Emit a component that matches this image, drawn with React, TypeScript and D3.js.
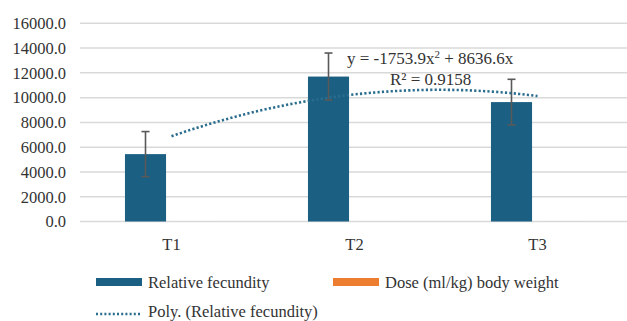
import React from "react";
import * as d3 from "d3";

const categories = ["T1", "T2", "T3"];
const seriesNames = ["Relative fecundity", "Dose (ml/kg) body weight"];
const fecundity = [5440, 11700, 9640];
const fecundityErr = [1820, 1900, 1840];
const dose = [0.5, 1.0, 1.5];
const yTicks = [0, 2000, 4000, 6000, 8000, 10000, 12000, 14000, 16000];
// trendline coefficients as printed on the chart
const polyA = -1753.9;
const polyB = 8636.6;
const equationText = ["y = -1753.9x", "2", " + 8636.6x"];
const r2Text = "R\u00b2 = 0.9158";
const trendLegend = "Poly. (Relative fecundity)";

const width = 627;
const height = 321;
const font = "Liberation Serif, Times New Roman, DejaVu Serif, serif";
const barColor = "#1b5f82";
const doseColor = "#ed7d31";
const trendColor = "#2a6d8e";
const gridColor = "#d9d9d9";
const textColor = "#333333";

export default function App() {
  const x = d3.scaleBand().domain(categories).range([80, 629]);
  const xSub = d3
    .scaleBand()
    .domain(seriesNames)
    .range([0, x.bandwidth()])
    .paddingInner(0.21)
    .paddingOuter(0.865);
  const y = d3.scaleLinear().domain([0, 16000]).range([221.5, 23.3]);

  const center = (c: string) => (x(c) as number) + x.bandwidth() / 2;
  const xTrend = d3
    .scaleLinear()
    .domain([1, 3])
    .range([center(categories[0]), center(categories[2])]);

  const trendPts = d3.range(1, 3.001, 0.05).map((t) => [t, polyA * t * t + polyB * t] as [number, number]);
  const trendLine = d3
    .line<[number, number]>()
    .x((d) => xTrend(d[0]))
    .y((d) => y(d[1]))
    .curve(d3.curveMonotoneX);

  const capHalf = 4;
  const txt = { fontFamily: font, fill: textColor };

  return (
    <svg
      width={width}
      height={height}
      style={{ position: "absolute", left: 0, top: 0, background: "#fff" }}
    >
      {/* gridlines */}
      {yTicks.map((t) => (
        <line key={t} x1={80} x2={width} y1={y(t)} y2={y(t)} stroke={gridColor} strokeWidth={1.5} />
      ))}
      {/* y labels */}
      {yTicks.map((t) => (
        <text key={"l" + t} x={66} y={y(t)} dy="0.35em" textAnchor="end" fontSize={16.5} style={txt}>
          {d3.format(".1f")(t)}
        </text>
      ))}
      {/* bars */}
      {categories.map((c, i) => (
        <g key={c} transform={`translate(${x(c)},0)`}>
          <rect
            x={xSub(seriesNames[0])}
            y={y(fecundity[i])}
            width={xSub.bandwidth()}
            height={y(0) - y(fecundity[i])}
            fill={barColor}
          />
          <rect
            x={xSub(seriesNames[1])}
            y={y(dose[i])}
            width={xSub.bandwidth()}
            height={y(0) - y(dose[i])}
            fill={doseColor}
          />
        </g>
      ))}
      {/* error bars */}
      {categories.map((c, i) => {
        const cx = (x(c) as number) + (xSub(seriesNames[0]) as number) + xSub.bandwidth() / 2;
        const top = y(fecundity[i] + fecundityErr[i]);
        const bot = y(fecundity[i] - fecundityErr[i]);
        return (
          <g key={"e" + c} stroke="#595959" strokeWidth={1.6}>
            <line x1={cx} x2={cx} y1={top} y2={bot} />
            <line x1={cx - capHalf} x2={cx + capHalf} y1={top} y2={top} />
            <line x1={cx - capHalf} x2={cx + capHalf} y1={bot} y2={bot} />
          </g>
        );
      })}
      {/* trendline */}
      <path
        d={trendLine(trendPts) as string}
        fill="none"
        stroke={trendColor}
        strokeWidth={2.6}
        strokeDasharray="2.2 2.2"
      />
      {/* equation */}
      <text x={347} y={64} fontSize={17} style={txt}>
        {equationText[0]}
        <tspan dy={-6} fontSize={11}>{equationText[1]}</tspan>
        <tspan dy={6}>{equationText[2]}</tspan>
      </text>
      <text x={390} y={85} fontSize={17} style={txt}>
        {r2Text}
      </text>
      {/* x labels */}
      {categories.map((c) => (
        <text key={"x" + c} x={center(c)} y={250} textAnchor="middle" fontSize={16.5} style={txt}>
          {c}
        </text>
      ))}
      {/* legend */}
      <rect x={96} y={278} width={46} height={8} fill={barColor} />
      <text x={148} y={288} fontSize={16.5} style={txt}>
        {seriesNames[0]}
      </text>
      <rect x={333} y={278} width={46} height={8} fill={doseColor} />
      <text x={385} y={288} fontSize={16.5} style={txt}>
        {seriesNames[1]}
      </text>
      <line
        x1={96}
        x2={141}
        y1={314}
        y2={314}
        stroke={trendColor}
        strokeWidth={2.4}
        strokeDasharray="2 2.2"
      />
      <text x={148} y={317} fontSize={16.5} style={txt}>
        {trendLegend}
      </text>
    </svg>
  );
}
